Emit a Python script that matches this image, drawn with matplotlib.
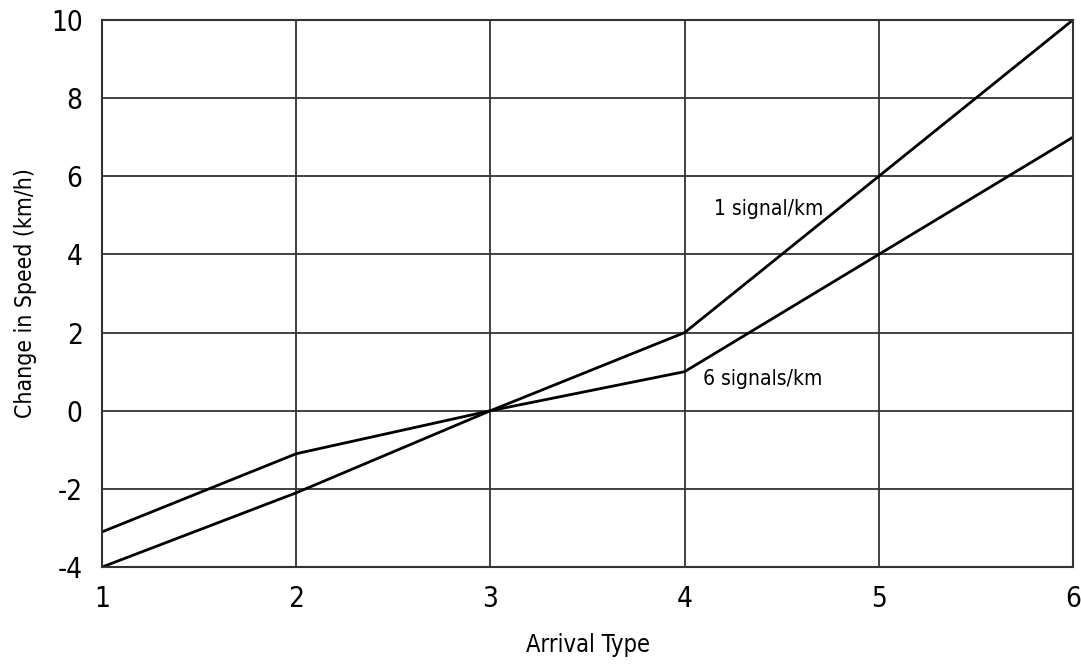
import matplotlib
matplotlib.use("Agg")
import matplotlib.pyplot as plt

# arrival type vs change in speed
arrival_type = [1, 2, 3, 4, 5, 6]
one_signal = [-4.0, -2.1, 0.0, 2.0, 6.0, 10.0]
six_signals = [-3.1, -1.1, 0.0, 1.0, 4.0, 7.0]
y_ticks = [-4, -2, 0, 2, 4, 6, 8, 10]

plt.rcParams['font.family'] = ['DejaVu Sans']
plt.rcParams['font.stretch'] = 'condensed'
plt.rcParams['axes.unicode_minus'] = False

fig = plt.figure(figsize=(10.81, 6.64), dpi=100)
ax = fig.add_axes([0.0944, 0.146, 0.8982, 0.824])

ax.plot(arrival_type, one_signal, color='black', lw=2)
ax.plot(arrival_type, six_signals, color='black', lw=2)

ax.set_xlim(1, 6)
ax.set_ylim(-4, 10)
ax.set_xticks(arrival_type)
ax.set_yticks(y_ticks)
ax.grid(True, color='#333333', lw=1.3)
ax.tick_params(length=0, labelsize=20)
ax.tick_params(axis='x', pad=13)
ax.tick_params(axis='y', pad=14)
for s in ax.spines.values():
    s.set_color('#333333')
    s.set_linewidth(1.5)

ax.text(4.15, 5.0, '1 signal/km', fontsize=15)
ax.text(4.095, 0.65, '6 signals/km', fontsize=15)

ax.set_xlabel('Arrival Type', fontsize=17, labelpad=14)
ax.set_ylabel('Change in Speed (km/h)', fontsize=16.5, labelpad=10)

fig.savefig('out.png', dpi=100)
